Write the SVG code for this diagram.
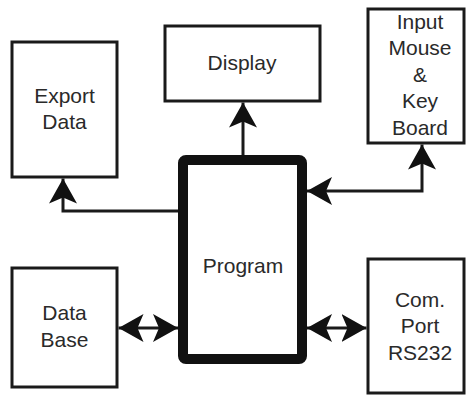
<svg xmlns="http://www.w3.org/2000/svg" width="467" height="395" viewBox="0 0 467 395">
  <style>
    .box { fill: #fff; stroke: #1a1a1a; stroke-width: 3; }
    .core { fill: #fff; stroke: #111; stroke-width: 10; stroke-linejoin: round; }
    .lbl { font-family: "Liberation Sans", Arial, sans-serif; font-size: 21px; fill: #2a2a2a; text-anchor: middle; }
    .wire { fill: none; stroke: #1a1a1a; stroke-width: 3; }
  </style>
  <defs>
    <marker id="head" viewBox="0 0 25 28" refX="25" refY="14" markerWidth="25" markerHeight="28" markerUnits="userSpaceOnUse" orient="auto-start-reverse">
      <path d="M0,0 L25,14 L0,28 L6,14 Z" fill="#111"/>
    </marker>
  </defs>
  <rect width="467" height="395" fill="#fff"/>

  <g id="export-data">
    <rect class="box" x="12" y="42" width="105" height="135"/>
    <text class="lbl" x="64.5" y="103">Export</text>
    <text class="lbl" x="64.5" y="129">Data</text>
  </g>

  <g id="display">
    <rect class="box" x="165" y="26" width="155" height="75"/>
    <text class="lbl" x="242" y="70">Display</text>
  </g>

  <g id="input">
    <rect class="box" x="368" y="9" width="96" height="134"/>
    <text class="lbl" x="420" y="29">Input</text>
    <text class="lbl" x="420" y="55">Mouse</text>
    <text class="lbl" x="420" y="82">&amp;</text>
    <text class="lbl" x="420" y="108">Key</text>
    <text class="lbl" x="420" y="135">Board</text>
  </g>

  <g id="database">
    <rect class="box" x="12" y="268" width="105" height="119"/>
    <text class="lbl" x="64.5" y="320">Data</text>
    <text class="lbl" x="64.5" y="347">Base</text>
  </g>

  <g id="comport">
    <rect class="box" x="368" y="259" width="96" height="134"/>
    <text class="lbl" x="420" y="307">Com.</text>
    <text class="lbl" x="420" y="333">Port</text>
    <text class="lbl" x="420" y="360">RS232</text>
  </g>

  <g id="program">
    <rect class="core" x="183" y="160" width="119" height="199" rx="3"/>
    <text class="lbl" x="243" y="273">Program</text>
  </g>

  <g id="connectors">
    <path class="wire" d="M178,211 H63 V178.5" marker-end="url(#head)"/>
    <path class="wire" d="M243,155 V102.5" marker-end="url(#head)"/>
    <path class="wire" d="M307,191 H422 V144.5" marker-start="url(#head)" marker-end="url(#head)"/>
    <path class="wire" d="M118.5,328 H178" marker-start="url(#head)" marker-end="url(#head)"/>
    <path class="wire" d="M307,328 H366.5" marker-start="url(#head)" marker-end="url(#head)"/>
  </g>
</svg>
